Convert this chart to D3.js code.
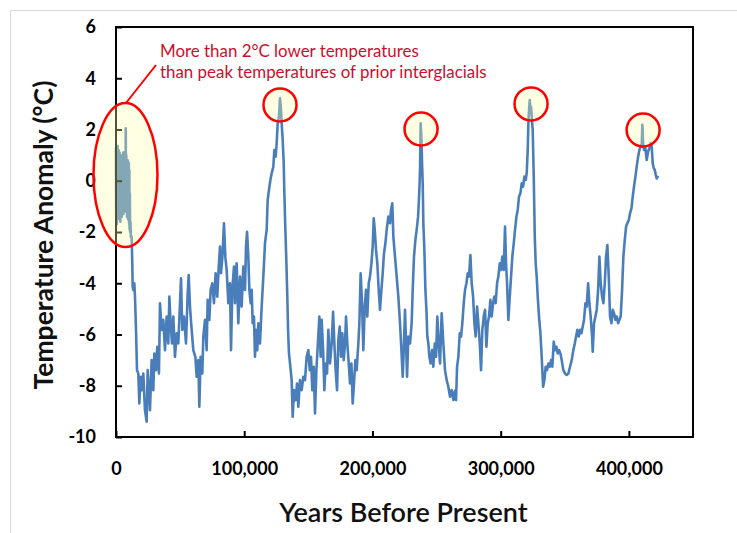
<!DOCTYPE html>
<html><head><meta charset="utf-8">
<script src="https://cdn.jsdelivr.net/npm/d3@7"></script>
<style>html,body{margin:0;padding:0;background:#fff;}svg{display:block;}</style>
</head><body>
<svg id="chart" width="737" height="533"></svg>
<script>
// ---- Data ----
const yearsBP = [
  0,200,400,600,800,1000,1200,1400,1600,1800,
  2000,2200,2400,2600,2800,3000,3200,3400,3600,3800,
  4000,4200,4400,4600,4800,5000,5200,5400,5600,5800,
  6000,6200,6400,6600,6800,7000,7200,7400,7600,7800,
  8000,8200,8400,8600,8800,9000,9200,9400,9600,9800,
  10000,10200,10400,10600,10800,11000,11300,11600,
  12200,12700,13000,13500,14300,14800,15600,16400,17400,18200,
  19200,20300,21300,22600,23900,24700,25700,26500,27800,29100,
  29900,31200,32200,33500,34300,35600,36900,38200,39500,40800,
  41600,42600,43700,44700,46000,47300,48600,49900,50700,51700,
  53000,54600,55900,56700,57700,59000,60300,61900,62900,64200,
  65000,66000,67300,68100,69400,70700,71500,72800,73800,75100,
  76400,77700,79000,80100,81100,81900,83000,84200,
  85300,86300,87600,88900,89700,90700,92000,92800,94100,95400,
  96700,98000,99300,100600,101400,102200,103200,104000,105000,105800,
  106600,107600,108400,109200,110200,111000,112300,113600,114900,116200,
  117500,118300,119300,120400,121400,122700,123500,124500,125300,126100,
  127100,127900,128700,129200,130000,130800,131300,132100,132900,133600,
  134200,134900,136000,137000,137800,138800,140100,141200,142200,143500,
  144800,146100,147400,148700,150000,151100,152100,153100,154200,155200,
  156300,157300,158600,159600,160400,161500,162500,163500,164600,165600,
  166900,168200,169300,170300,171300,172400,173400,174500,175500,176500,
  177600,178600,
  179400,180400,181500,182500,183600,184600,185600,186700,187700,189000,
  189800,190800,191900,192900,194000,195000,196000,197100,198100,199200,
  200200,201000,201800,202800,203800,204900,205900,207000,208000,209000,
  210100,211100,212400,213700,214500,215500,216300,217600,218900,220200,
  221500,222600,223600,224600,225400,226200,227000,228000,229300,230600,
  231400,232400,233500,234500,235600,236600,237100,237600,238200,238700,
  239200,239700,240500,241300,242100,242800,243600,244400,245400,246500,
  247500,248600,249600,250600,251700,252700,254000,255300,256600,257900,
  259200,260500,261800,263100,264300,265200,
  266000,267000,268100,269100,270100,271200,272200,273300,274300,275300,
  276400,277400,278500,279500,280500,281600,282600,283700,284700,285700,
  286800,287800,288900,289900,290900,292000,293000,294100,295100,296100,
  297200,298200,299300,300300,301300,302400,303400,304200,305000,306000,
  307100,308100,309100,310200,311200,312300,313300,314300,315400,316400,
  317500,318500,319500,320300,321100,321600,322100,322700,323200,323700,
  324200,325000,325800,326600,327300,328100,328900,329900,331000,332000,
  333100,334100,335100,336200,337200,338300,339300,340300,341400,342400,
  343500,344500,345500,346600,347600,348900,350200,351500,352800,354100,
  355400,356700,
  357800,358800,359800,360900,361900,363000,364000,365000,366100,367100,
  368200,369200,370200,371300,371800,372800,373900,374900,376000,377000,
  378000,379100,380100,381200,382200,383200,384300,385300,386400,387400,
  388400,389500,390500,391600,392600,393600,394700,395700,396800,397800,
  398800,399900,400900,402000,403000,404000,405100,406100,407200,408200,
  409200,410000,410500,411100,411800,412900,413900,415000,416000,417000,
  417800,418600,419400,420200,421000,421700,422800
];
const tempAnomaly = [
  1.3,-1.5,1.3,-1.7,1.2,-1.2,1.35,-1.4,1.1,-1.0,
  1.2,-1.3,1.0,-1.5,1.1,-1.1,0.9,-1.6,1.0,-1.2,
  0.7,-1.0,0.9,-1.4,0.6,-1.1,0.8,-0.9,1.1,-1.3,
  0.9,-1.0,1.1,-0.8,0.8,-1.2,1.1,-0.9,2.05,-0.7,
  1.0,-1.1,0.8,-1.4,0.7,-1.2,0.8,-1.5,0.6,-1.3,
  0.7,-1.7,0.4,-1.9,-0.5,-2.0,-1.6,-2.2,
  -2.18,-3.22,-4.13,-4.26,-4.0,-4.52,-5.82,-7.39,-7.52,-8.69,
  -7.65,-8.17,-7.52,-8.95,-9.40,-7.39,-8.17,-8.95,-7.0,-8.17,
  -6.74,-7.39,-6.48,-7.52,-4.78,-5.82,-5.43,-6.61,-5.30,-6.35,
  -4.52,-5.56,-6.35,-5.30,-6.87,-5.95,-6.35,-4.78,-3.81,-5.82,
  -5.30,-6.35,-4.39,-3.68,-4.91,-5.82,-6.61,-6.87,-7.65,-7.0,
  -8.82,-6.87,-7.52,-6.08,-5.43,-6.61,-4.65,-5.43,-4.26,-4.0,
  -4.78,-3.61,-4.52,-3.35,-2.57,-3.61,-2.96,-1.66,
  -3.0,-3.48,-4.78,-4.0,-6.61,-4.26,-3.35,-4.78,-3.22,-5.56,
  -3.74,-4.91,-3.35,-4.26,-2.57,-1.99,-2.96,-4.26,-4.78,-4.26,
  -5.56,-5.30,-6.87,-5.82,-6.61,-5.56,-6.35,-4.91,-3.74,-2.44,
  -1.92,-0.75,-0.36,0.03,0.29,0.55,1.20,0.94,1.46,2.24,
  2.50,3.22,2.76,2.24,1.59,0.68,-0.49,-1.92,-3.22,-4.52,
  -5.82,-6.74,-7.26,-7.78,-9.21,-8.17,-8.56,-7.91,-8.82,-7.78,
  -8.17,-7.65,-7.78,-6.87,-6.61,-7.39,-6.87,-8.17,-7.26,-9.08,
  -7.39,-6.48,-5.30,-6.87,-5.43,-6.61,-8.17,-7.13,-7.52,-5.82,
  -7.13,-6.35,-5.11,-6.35,-7.39,-8.17,-6.21,-5.69,-6.87,-5.95,
  -7.0,-6.35,
  -5.30,-6.35,-7.13,-7.91,-7.13,-8.69,-7.91,-7.0,-7.39,-6.35,
  -5.56,-3.61,-4.78,-6.61,-4.91,-4.26,-5.30,-4.0,-3.74,-3.22,
  -2.57,-1.47,-1.92,-2.70,-3.22,-4.26,-5.04,-4.26,-3.61,-2.83,
  -2.44,-1.92,-1.40,-1.66,-1.14,-0.88,-2.18,-2.96,-3.74,-4.52,
  -5.56,-6.61,-7.65,-6.35,-5.04,-6.35,-7.65,-6.08,-6.35,-5.56,
  -4.26,-2.96,-2.31,-1.92,-1.40,-0.36,0.42,2.24,1.59,0.68,
  -0.10,-1.66,-2.70,-4.26,-5.04,-6.08,-6.35,-6.87,-7.13,-6.61,
  -7.26,-6.35,-6.87,-5.30,-6.35,-7.13,-5.17,-6.35,-7.39,-7.78,
  -8.04,-8.43,-8.17,-8.56,-8.2,-8.56,
  -7.26,-6.87,-5.95,-6.08,-5.56,-4.78,-4.26,-4.0,-3.61,-3.74,
  -2.90,-4.0,-4.52,-5.56,-6.08,-4.91,-5.56,-6.35,-7.39,-5.82,
  -5.30,-5.04,-6.48,-5.56,-5.30,-4.65,-5.30,-4.78,-4.52,-4.78,
  -4.0,-3.74,-3.22,-3.48,-2.96,-3.48,-1.79,-3.22,-4.0,-5.43,
  -4.52,-3.74,-2.96,-2.44,-1.92,-1.40,-1.14,-0.62,-0.49,-0.10,
  -0.23,0.16,0.03,0.29,1.20,2.24,2.76,3.15,2.76,2.89,
  2.50,1.98,0.16,-2.18,-3.22,-3.74,-4.52,-5.30,-5.95,-6.87,
  -8.04,-7.78,-7.26,-7.39,-7.13,-7.26,-7.0,-7.26,-6.28,-6.61,
  -6.48,-6.74,-6.61,-6.74,-7.0,-7.39,-7.52,-7.58,-7.52,-7.26,
  -7.0,-6.61,
  -6.35,-6.08,-5.82,-6.08,-5.82,-5.95,-5.69,-5.43,-4.78,-4.91,
  -4.0,-4.78,-5.30,-6.08,-6.67,-5.56,-5.30,-5.04,-4.26,-2.96,
  -4.0,-4.52,-4.78,-4.0,-2.96,-2.51,-3.74,-5.30,-5.56,-5.04,
  -5.17,-5.43,-5.30,-5.56,-5.43,-5.30,-4.26,-2.96,-2.31,-1.79,
  -1.66,-1.53,-1.27,-1.08,-0.62,-0.23,0.16,0.55,0.94,1.20,
  1.39,1.33,2.18,1.46,1.20,1.27,0.81,1.14,1.27,1.46,
  1.33,0.68,0.49,0.42,0.22,0.09,0.19
];
const yTicks = [6, 4, 2, 0, -2, -4, -6, -8, -10];
const xTicks = [0, 100000, 200000, 300000, 400000];
const annotationLines = ["More than 2\u00B0C lower temperatures", "than peak temperatures of prior interglacials"];
// highlighted interglacial peaks: [yearBP, anomaly]
const peakMarks = [[127900, 2.96], [237900, 2.02], [323700, 3.0], [411100, 1.98]];
const holoceneMark = [7400, 0.22];
const xTitle = "Years Before Present";
const yTitle = "Temperature Anomaly (\u00B0C)";

// ---- Drawing ----
const svg = d3.select("#chart");
const L = 116, R = 693, T = 27, B = 437;
const x = d3.scaleLinear().domain([0, 450000]).range([L, R]);
const y = d3.scaleLinear().domain([-10, 6]).range([B, T]);
const FONT = "Lato, 'Open Sans', sans-serif";

// outer chart frame
svg.append("rect").attr("x", 10.5).attr("y", 10.5).attr("width", 760).attr("height", 560)
  .attr("fill", "none").attr("stroke", "#d9d9d9").attr("stroke-width", 1);

const n = Math.min(yearsBP.length, tempAnomaly.length);
const pts = d3.range(n).map(i => [yearsBP[i], tempAnomaly[i]]);
const line = d3.line().x(d => x(d[0])).y(d => y(d[1]));
svg.append("path").datum(pts).attr("d", line)
  .attr("fill", "none").attr("stroke", "#4a7ebb").attr("stroke-width", 2.6)
  .attr("stroke-linejoin", "round");

// plot frame
svg.append("rect").attr("x", L).attr("y", T).attr("width", R - L).attr("height", B - T)
  .attr("fill", "none").attr("stroke", "#000").attr("stroke-width", 2);

// axes with inward ticks
const yAxis = d3.axisLeft(y).tickValues(yTicks).tickSize(-6).tickFormat(d => String(d));
const gy = svg.append("g").attr("transform", `translate(${L},0)`).call(yAxis);
const xAxis = d3.axisBottom(x).tickValues(xTicks).tickSize(-6).tickPadding(25).tickFormat(d3.format(","));
const gx = svg.append("g").attr("transform", `translate(0,${B})`).call(xAxis);
[gy, gx].forEach(g => {
  g.select(".domain").remove();
  g.selectAll(".tick line").attr("stroke", "#000").attr("stroke-width", 2);
  g.selectAll(".tick text").attr("font-family", FONT).attr("font-weight", "bold")
    .attr("font-size", 18).attr("fill", "#000");
});
gy.selectAll(".tick text").attr("x", -20);

// axis titles
svg.append("text").attr("x", (L + R) / 2 - 1).attr("y", 522).attr("text-anchor", "middle")
  .attr("font-family", FONT).attr("font-weight", 600).attr("font-size", 27).attr("fill", "#111").text(xTitle);
svg.append("text").attr("transform", `translate(53,${(T + B) / 2 + 3}) rotate(-90)`).attr("text-anchor", "middle")
  .attr("font-family", FONT).attr("font-weight", "bold").attr("font-size", 26.5).attr("fill", "#111").text(yTitle);

// highlight shapes
const hl = "#ffffaa";
svg.append("ellipse").attr("cx", x(holoceneMark[0])).attr("cy", y(holoceneMark[1]))
  .attr("rx", 32).attr("ry", 72).attr("fill", hl).attr("fill-opacity", 0.32)
  .attr("stroke", "#ff0000").attr("stroke-width", 2.5);
svg.selectAll("circle.peak").data(peakMarks).join("circle").attr("class", "peak")
  .attr("cx", d => x(d[0])).attr("cy", d => y(d[1])).attr("r", 16.5)
  .attr("fill", hl).attr("fill-opacity", 0.32).attr("stroke", "#ff0000").attr("stroke-width", 2.5);

// annotation
svg.append("line").attr("x1", 156).attr("y1", 65).attr("x2", 126).attr("y2", 103)
  .attr("stroke", "#ff0000").attr("stroke-width", 2);
svg.selectAll("text.ann").data(annotationLines).join("text").attr("class", "ann")
  .attr("x", 160).attr("y", (d, i) => 57 + i * 21)
  .attr("font-family", FONT).attr("font-size", 16.9).attr("fill", "#c8102e").text(d => d);
</script>
</body></html>
